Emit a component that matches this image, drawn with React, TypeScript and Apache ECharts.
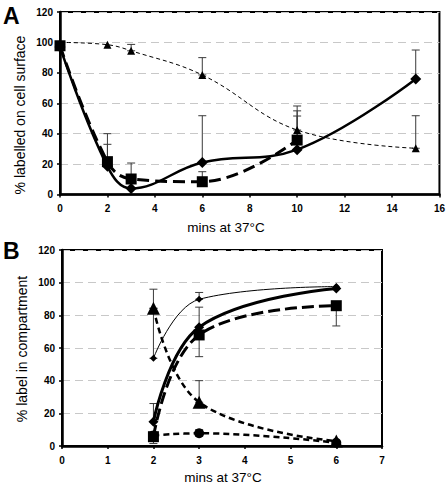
import React, { useEffect, useRef } from "react";
import * as echarts from "echarts";

// ---- Panel A data: [minutes, % labelled on cell surface]
const aDiamond = [[0, 97], [2, 18.5], [3, 4], [6, 21], [10, 29.5], [15, 76]];
const aSquare = [[0, 97.8], [2, 21.6], [3, 10.2], [6, 8.4], [10, 35.8]];
const aTriangle = [[0, 100], [2, 98.5], [3, 94.5], [6, 78.6], [10, 42.4], [15, 30.4]];
// error bars: [x, low, high]
const aErrors = [
  [2, 21.6, 40], [2, 18.5, 33], [3, 10.2, 20.7], [3, 94.5, 98.7],
  [6, 21, 51.8], [6, 8.4, 15], [6, 78.6, 90],
  [10, 42.4, 58.2], [10, 35.8, 55], [10, 29.3, 51.6],
  [15, 76, 95], [15, 30.4, 51.8],
];

// ---- Panel B data: [minutes, % label in compartment]
const bThinDiamond = [[2, 53.7], [3, 89.8], [6, 97.6]];
const bDiamond = [[2, 14.9], [3, 72.7], [6, 96.5]];
const bSquare = [[2, 5.7], [3, 68], [6, 85.9]];
const bTriangle = [[2, 84.3], [3, 26.8], [6, 3]];
const bCircle = [[2, 6.5], [3, 7.8], [6, 2]];
const bErrors = [
  [2, 84.3, 96], [2, 53.7, 84.3], [2, 14.9, 26], [2, 1.5, 5.7],
  [3, 89.8, 94], [3, 54.7, 85], [3, 26.8, 40], [3, 6, 10],
  [6, 73.5, 85.9],
];

const xTitle = "mins at 37°C";
const yTitleA = "% labelled on cell surface";
const yTitleB = "% label in compartment";

const FONT = "Liberation Sans, Arial, sans-serif";

function errorSeries(data: number[][], idx: number) {
  return {
    type: "custom",
    xAxisIndex: idx,
    yAxisIndex: idx,
    silent: true,
    z: 1,
    encode: { x: 0, y: [1, 2] },
    data,
    renderItem: (_p: any, api: any) => {
      const x = api.value(0);
      const p1 = api.coord([x, api.value(1)]);
      const p2 = api.coord([x, api.value(2)]);
      const w = 4;
      const st = { stroke: "#3a3a3a", lineWidth: 1 };
      return {
        type: "group",
        children: [
          { type: "line", shape: { x1: p1[0], y1: p1[1], x2: p2[0], y2: p2[1] }, style: st },
          { type: "line", shape: { x1: p2[0] - w, y1: p2[1], x2: p2[0] + w, y2: p2[1] }, style: st },
          { type: "line", shape: { x1: p1[0] - w, y1: p1[1], x2: p1[0] + w, y2: p1[1] }, style: st },
        ],
      };
    },
  };
}

function lineSeries(data: number[][], idx: number, symbol: string, size: number, width: number, dash: any, smooth: any) {
  return {
    type: "line",
    xAxisIndex: idx,
    yAxisIndex: idx,
    data,
    smooth,
    symbol,
    symbolSize: size,
    showSymbol: true,
    itemStyle: { color: "#000" },
    lineStyle: { color: "#000", width, type: dash },
    z: 3,
  };
}

const axisCommon = {
  axisLine: { show: true, lineStyle: { color: "#000", width: 2.5 } },
  axisTick: { show: true, length: 3, lineStyle: { color: "#000", width: 1.5 } },
  axisLabel: { color: "#000", fontSize: 10, fontWeight: "bold", fontFamily: FONT },
};

export default function App() {
  const ref = useRef<HTMLDivElement>(null);
  useEffect(() => {
    if (!ref.current) return;
    const chart = echarts.init(ref.current, undefined, { renderer: "svg" });
    chart.setOption({
      animation: false,
      backgroundColor: "#fff",
      textStyle: { fontFamily: FONT },
      grid: [
        { left: 60, top: 12, width: 381, height: 182.5, show: true, borderColor: "#000", borderWidth: 2 },
        { left: 62, top: 250, width: 320, height: 196, show: true, borderColor: "#000", borderWidth: 2 },
      ],
      xAxis: [
        { ...axisCommon, type: "value", gridIndex: 0, min: 0, max: 16, interval: 2, splitLine: { show: false },
          axisLabel: { ...axisCommon.axisLabel, margin: 9 } },
        { ...axisCommon, type: "value", gridIndex: 1, min: 0, max: 7, interval: 1, splitLine: { show: false },
          axisLabel: { ...axisCommon.axisLabel, margin: 9 } },
      ],
      yAxis: [0, 1].map((i) => ({
        ...axisCommon,
        type: "value",
        gridIndex: i,
        min: 0,
        max: 120,
        interval: 20,
        axisLabel: { ...axisCommon.axisLabel, margin: 7 },
        splitLine: { show: true, lineStyle: { color: "#c8c8c8", width: 1, type: [8, 5] } },
      })),
      graphic: [
        { type: "text", x: 3, y: 4, style: { text: "A", font: "bold 23px " + FONT, fill: "#000" } },
        { type: "text", x: 3, y: 239, style: { text: "B", font: "bold 23px " + FONT, fill: "#000" } },
        { type: "text", x: 226, y: 227, style: { text: xTitle, font: "13.5px " + FONT, fill: "#000", textAlign: "center", textVerticalAlign: "middle" } },
        { type: "text", x: 223, y: 477, style: { text: xTitle, font: "13.5px " + FONT, fill: "#000", textAlign: "center", textVerticalAlign: "middle" } },
        { type: "text", x: 20, y: 115, rotation: Math.PI / 2, style: { text: yTitleA, font: "14px " + FONT, fill: "#000", textAlign: "center", textVerticalAlign: "middle" } },
        { type: "text", x: 22, y: 349, rotation: Math.PI / 2, style: { text: yTitleB, font: "14px " + FONT, fill: "#000", textAlign: "center", textVerticalAlign: "middle" } },
      ],
      series: [
        errorSeries(aErrors, 0),
        lineSeries(aTriangle, 0, "triangle", 8, 1, [4, 3], 0.4),
        lineSeries(aSquare, 0, "rect", 11, 3, [12, 6], 0.4),
        lineSeries(aDiamond, 0, "diamond", 11, 2.5, "solid", 0.4),
        errorSeries(bErrors, 1),
        lineSeries(bThinDiamond, 1, "diamond", 7, 1, "solid", 0.4),
        lineSeries(bDiamond, 1, "diamond", 10, 3, "solid", 0.4),
        lineSeries(bSquare, 1, "rect", 11, 3, [12, 5], 0.4),
        lineSeries(bTriangle, 1, "triangle", 13, 2.5, [6, 4], 0.4),
        lineSeries(bCircle, 1, "circle", 10, 2.5, [6, 4], 0.4),
      ],
    });
    return () => chart.dispose();
  }, []);
  return <div ref={ref} style={{ position: "absolute", left: 0, top: 0, width: 448, height: 483 }} />;
}
